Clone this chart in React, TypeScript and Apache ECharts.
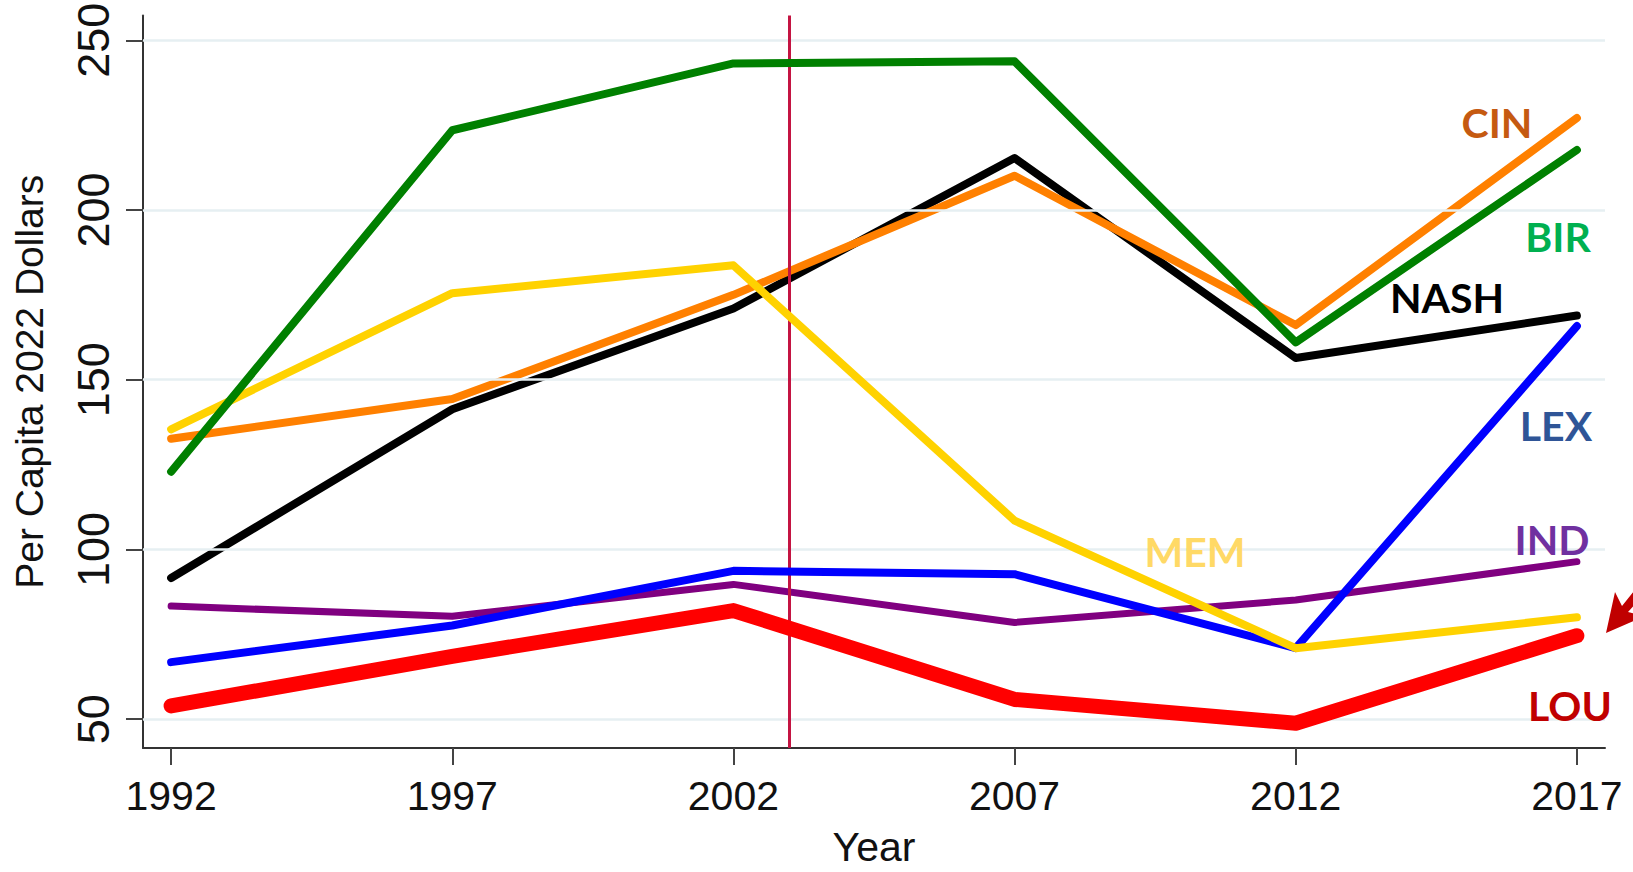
import React, { useEffect, useRef } from "react";
import * as echarts from "echarts";

const years = [1992, 1997, 2002, 2007, 2012, 2017];
const yTicks = [50, 100, 150, 200, 250];
const BIR = [122.9, 223.5, 243.2, 243.8, 161.0, 217.7];
const CIN = [132.6, 144.3, 175.0, 210.1, 166.1, 227.1];
const NASH = [91.6, 141.3, 171.0, 215.3, 156.4, 168.9];
const MEM = [135.4, 175.5, 183.7, 108.5, 70.9, 80.0];
const LEX = [66.8, 77.6, 93.7, 92.7, 70.9, 165.8];
const IND = [83.3, 80.3, 89.7, 78.5, 85.1, 96.4];
const LOU = [53.9, 68.5, 82.0, 55.8, 48.8, 74.6];
const markYear = 2003;

const seriesDefs = [
  { name: "NASH", values: NASH, color: "#000000", width: 8 },
  { name: "CIN", values: CIN, color: "#ff8000", width: 8 },
  { name: "IND", values: IND, color: "#800080", width: 7 },
  { name: "LEX", values: LEX, color: "#0000ff", width: 8 },
  { name: "MEM", values: MEM, color: "#ffd200", width: 8 },
  { name: "BIR", values: BIR, color: "#008000", width: 8 },
  { name: "LOU", values: LOU, color: "#ff0000", width: 15 },
];

const labels = [
  { text: "CIN", x: 1497, y: 122, color: "#c55a11" },
  { text: "BIR", x: 1558, y: 236, color: "#00b050" },
  { text: "NASH", x: 1447, y: 297, color: "#000000" },
  { text: "LEX", x: 1556, y: 425, color: "#2f5597" },
  { text: "IND", x: 1552, y: 539, color: "#7030a0" },
  { text: "MEM", x: 1195, y: 551, color: "#ffd966" },
  { text: "LOU", x: 1570, y: 705, color: "#c00000" },
];

export default function App() {
  const ref = useRef<HTMLDivElement>(null);
  useEffect(() => {
    if (!ref.current) return;
    const chart = echarts.init(ref.current, null, { renderer: "svg" });
    const axisFont = "'Liberation Sans', Arial, sans-serif";
    const option: any = {
      animation: false,
      backgroundColor: "#ffffff",
      grid: { left: 143, right: 28, top: 15, bottom: 117, containLabel: false },
      xAxis: {
        type: "value",
        min: 1991.5,
        max: 2017.5,
        splitLine: { show: false },
        axisLine: { show: true, onZero: false, lineStyle: { color: "#333", width: 2 } },
        axisTick: { show: true, length: 17, customValues: years, lineStyle: { color: "#444", width: 2 } },
        axisLabel: {
          customValues: years,
          fontSize: 41,
          color: "#111",
          margin: 27,
          fontFamily: axisFont,
          formatter: (v: number) => String(v),
        },
        name: "Year",
        nameLocation: "middle",
        nameGap: 78,
        nameTextStyle: { fontSize: 41, color: "#111", fontFamily: axisFont },
      },
      yAxis: {
        type: "value",
        min: 41.5,
        max: 257.3,
        splitLine: { show: false },
        axisLine: { show: true, onZero: false, lineStyle: { color: "#333", width: 2 } },
        axisTick: { show: true, length: 17, customValues: yTicks, lineStyle: { color: "#444", width: 2 } },
        axisLabel: {
          customValues: yTicks,
          rotate: 90,
          fontSize: 45,
          color: "#111",
          margin: 27,
          fontFamily: axisFont,
          formatter: (v: number) => String(v),
        },
        name: "Per Capita 2022 Dollars",
        nameLocation: "middle",
        nameGap: 94,
        nameRotate: 90,
        nameTextStyle: { fontSize: 39, color: "#111", fontFamily: axisFont },
      },
      series: [
        {
          type: "line",
          name: "grid",
          data: [],
          z: 1,
          silent: true,
          markLine: {
            silent: true,
            symbol: ["none", "none"],
            label: { show: false },
            lineStyle: { color: "#e6eff2", width: 2.5, type: "solid" },
            data: yTicks.map((v) => ({ yAxis: v })),
          },
        },
        ...seriesDefs.map((s, i) => ({
          type: "line",
          name: s.name,
          z: 2 + i,
          symbol: "none",
          data: years.map((y, k) => [y, s.values[k]]),
          lineStyle: { color: s.color, width: s.width, cap: "round", join: "round" },
        })),
        {
          type: "line",
          name: "mark",
          data: [],
          z: 20,
          silent: true,
          markLine: {
            silent: true,
            symbol: ["none", "none"],
            label: { show: false },
            lineStyle: { color: "#c41442", width: 3, type: "solid" },
            data: [{ xAxis: markYear }],
          },
        },
      ],
      graphic: [
        ...labels.map((l) => ({
          type: "text",
          x: l.x,
          y: l.y,
          z: 100,
          style: {
            text: l.text,
            fill: l.color,
            fontSize: 41,
            fontWeight: "bold",
            fontFamily: "Lato, 'Open Sans', sans-serif",
            align: "center",
            verticalAlign: "middle",
          },
        })),
        {
          type: "polygon",
          z: 100,
          shape: {
            points: [
              [1606, 633],
              [1615, 592],
              [1622, 606],
              [1646, 576],
              [1653, 584],
              [1628, 612],
              [1645, 616],
            ],
          },
          style: { fill: "#c00000" },
        },
      ],
    };
    chart.setOption(option);
    return () => chart.dispose();
  }, []);
  return (
    <div
      ref={ref}
      style={{ position: "fixed", left: 0, top: 0, width: 1633, height: 872, background: "#fff" }}
    />
  );
}
